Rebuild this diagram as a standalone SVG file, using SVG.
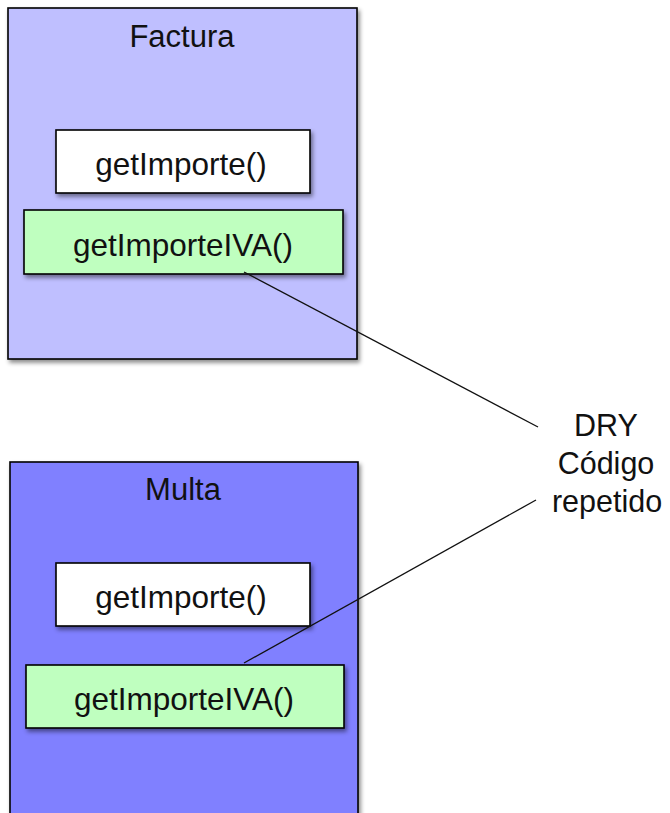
<svg xmlns="http://www.w3.org/2000/svg" width="670" height="813" viewBox="0 0 670 813">
  <defs>
    <filter id="shadow" x="-10%" y="-10%" width="130%" height="130%">
      <feDropShadow dx="2" dy="3" stdDeviation="2" flood-color="#000" flood-opacity="0.45"/>
    </filter>
    <style>
      .box { stroke: #000; stroke-width: 1.6; filter: url(#shadow); }
      .factura { fill: #bfbfff; }
      .multa { fill: #8080ff; }
      .plain { fill: #ffffff; }
      .iva { fill: #bfffbf; }
      text { font-family: "Liberation Sans", Arial, Helvetica, sans-serif; fill: #111; text-anchor: middle; }
      .title { font-size: 31px; }
      .method { font-size: 31.5px; }
      .note { font-size: 30.5px; }
      .link { stroke: #111; stroke-width: 1.3; fill: none; }
    </style>
  </defs>

  <rect width="670" height="813" fill="#ffffff"/>

  <!-- Factura class -->
  <g id="factura">
    <rect class="box factura" x="8" y="8" width="349" height="351"/>
    <text class="title" x="182" y="47">Factura</text>
  </g>
  <g id="factura-getImporte">
    <rect class="box plain" x="56" y="130" width="254" height="63"/>
    <text class="method" x="181" y="175">getImporte()</text>
  </g>
  <g id="factura-getImporteIVA">
    <rect class="box iva" x="24" y="210" width="319" height="64"/>
    <text class="method" x="183" y="256">getImporteIVA()</text>
  </g>

  <!-- Multa class -->
  <g id="multa">
    <rect class="box multa" x="10" y="462" width="348" height="380"/>
    <text class="title" x="183" y="500">Multa</text>
  </g>
  <g id="multa-getImporte">
    <rect class="box plain" x="56" y="563" width="254" height="63"/>
    <text class="method" x="181" y="608">getImporte()</text>
  </g>
  <g id="multa-getImporteIVA">
    <rect class="box iva" x="26" y="665" width="318" height="63"/>
    <text class="method" x="184" y="710">getImporteIVA()</text>
  </g>

  <!-- Note -->
  <g id="note">
    <text class="note" x="606" y="436">DRY</text>
    <text class="note" x="606" y="474">Código</text>
    <text class="note" x="607" y="512">repetido</text>
  </g>

  <!-- Connectors -->
  <g id="connectors">
    <line class="link" x1="244" y1="272" x2="538" y2="427"/>
    <line class="link" x1="244" y1="663" x2="536" y2="500"/>
  </g>
</svg>
